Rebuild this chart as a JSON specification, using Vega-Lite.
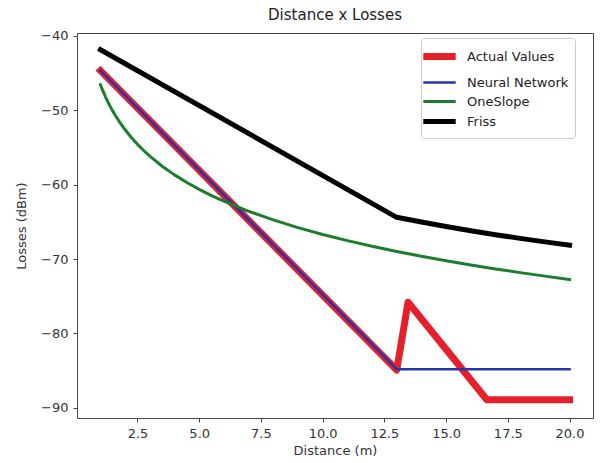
{
  "$schema": "https://vega.github.io/schema/vega-lite/v6.json",
  "autosize": {"type": "none"},
  "width": 516,
  "height": 385,
  "padding": {"left": 77, "top": 33, "right": 9, "bottom": 45},
  "background": "white",
  "title": {"text": "Distance x Losses", "fontSize": 15, "fontWeight": "normal", "font": "DejaVu Sans", "color": "#222", "offset": 7},
  "config": {
    "view": {"stroke": "#444", "strokeWidth": 1},
    "font": "DejaVu Sans",
    "axis": {"grid": false, "domain": false, "tickColor": "#444", "tickSize": 4, "labelFontSize": 13, "labelColor": "#333", "labelPadding": 5, "titleFontSize": 13, "titleFontWeight": "normal", "titleColor": "#333", "labelFont": "DejaVu Sans", "titleFont": "DejaVu Sans"}
  },
  "data": {"values": [
    {"d": 1, "loss": -44.7, "series": "Actual Values"},
    {"d": 13, "loss": -84.9, "series": "Actual Values"},
    {"d": 13.46, "loss": -75.8, "series": "Actual Values"},
    {"d": 16.65, "loss": -88.9, "series": "Actual Values"},
    {"d": 20, "loss": -88.9, "series": "Actual Values"},
    {"d": 1, "loss": -44.7, "series": "Neural Network"},
    {"d": 13, "loss": -84.8, "series": "Neural Network"},
    {"d": 20, "loss": -84.8, "series": "Neural Network"},
    {"d": 1, "loss": -46.6, "series": "OneSlope"},
    {"d": 1.1, "loss": -47.43, "series": "OneSlope"},
    {"d": 1.2, "loss": -48.19, "series": "OneSlope"},
    {"d": 1.3, "loss": -48.89, "series": "OneSlope"},
    {"d": 1.4, "loss": -49.54, "series": "OneSlope"},
    {"d": 1.5, "loss": -50.14, "series": "OneSlope"},
    {"d": 1.6, "loss": -50.7, "series": "OneSlope"},
    {"d": 1.8, "loss": -51.73, "series": "OneSlope"},
    {"d": 2, "loss": -52.65, "series": "OneSlope"},
    {"d": 2.25, "loss": -53.68, "series": "OneSlope"},
    {"d": 2.5, "loss": -54.6, "series": "OneSlope"},
    {"d": 2.75, "loss": -55.43, "series": "OneSlope"},
    {"d": 3, "loss": -56.19, "series": "OneSlope"},
    {"d": 3.5, "loss": -57.54, "series": "OneSlope"},
    {"d": 4, "loss": -58.7, "series": "OneSlope"},
    {"d": 4.5, "loss": -59.73, "series": "OneSlope"},
    {"d": 5, "loss": -60.65, "series": "OneSlope"},
    {"d": 5.5, "loss": -61.48, "series": "OneSlope"},
    {"d": 6, "loss": -62.24, "series": "OneSlope"},
    {"d": 7, "loss": -63.59, "series": "OneSlope"},
    {"d": 8, "loss": -64.75, "series": "OneSlope"},
    {"d": 9, "loss": -65.78, "series": "OneSlope"},
    {"d": 10, "loss": -66.7, "series": "OneSlope"},
    {"d": 11, "loss": -67.53, "series": "OneSlope"},
    {"d": 12, "loss": -68.29, "series": "OneSlope"},
    {"d": 13, "loss": -68.99, "series": "OneSlope"},
    {"d": 14, "loss": -69.64, "series": "OneSlope"},
    {"d": 15, "loss": -70.24, "series": "OneSlope"},
    {"d": 16, "loss": -70.8, "series": "OneSlope"},
    {"d": 17, "loss": -71.33, "series": "OneSlope"},
    {"d": 18, "loss": -71.83, "series": "OneSlope"},
    {"d": 19, "loss": -72.3, "series": "OneSlope"},
    {"d": 20, "loss": -72.75, "series": "OneSlope"},
    {"d": 1, "loss": -41.9, "series": "Friss"},
    {"d": 13, "loss": -64.4, "series": "Friss"},
    {"d": 14, "loss": -65.04, "series": "Friss"},
    {"d": 15, "loss": -65.64, "series": "Friss"},
    {"d": 16, "loss": -66.2, "series": "Friss"},
    {"d": 17, "loss": -66.73, "series": "Friss"},
    {"d": 18, "loss": -67.23, "series": "Friss"},
    {"d": 19, "loss": -67.7, "series": "Friss"},
    {"d": 20, "loss": -68.14, "series": "Friss"}
  ]},
  "mark": {"type": "line", "strokeJoin": "round", "strokeCap": "square", "clip": true},
  "encoding": {
    "x": {"field": "d", "type": "quantitative", "title": "Distance (m)",
      "scale": {"domain": [0.05, 20.95], "nice": false, "zero": false},
      "axis": {"values": [2.5, 5, 7.5, 10, 12.5, 15, 17.5, 20], "format": ".1f", "titlePadding": 4}},
    "y": {"field": "loss", "type": "quantitative", "title": "Losses (dBm)",
      "scale": {"domain": [-91.35, -39.65], "nice": false, "zero": false},
      "axis": {"values": [-90, -80, -70, -60, -50, -40], "titlePadding": 12}},
    "color": {"field": "series", "type": "nominal",
      "scale": {"domain": ["Actual Values", "Neural Network", "OneSlope", "Friss"], "range": ["#e5202a", "#2336ad", "#1c7d2c", "#000000"]},
      "legend": {"title": null, "orient": "none", "legendX": 344, "legendY": 5, "symbolType": "M-1.8,0L1.8,0", "symbolSize": 324, "labelFontSize": 13, "labelColor": "#222", "labelOffset": 15, "rowPadding": 1, "padding": 6, "strokeColor": "#ccc", "fillColor": "white", "cornerRadius": 3}},
    "strokeWidth": {"field": "series", "type": "nominal",
      "scale": {"type": "ordinal", "domain": ["Actual Values", "Neural Network", "OneSlope", "Friss"], "range": [7, 2.5, 3, 5]},
      "legend": {"title": null, "orient": "none", "legendX": 344, "legendY": 5, "symbolType": "M-1.8,0L1.8,0", "symbolSize": 324, "labelFontSize": 13, "labelColor": "#222", "labelOffset": 15, "rowPadding": 1, "padding": 6, "strokeColor": "#ccc", "fillColor": "white", "cornerRadius": 3}},
    "order": {"field": "d", "type": "quantitative"}
  }
}
